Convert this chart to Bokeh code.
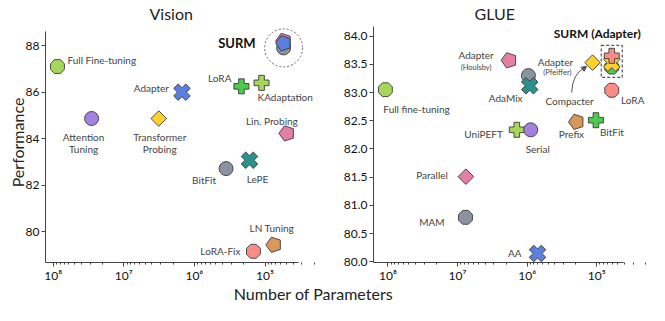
import math
from bokeh.plotting import figure
from bokeh.models import (Range1d, FixedTicker, Label, Arrow, NormalHead,
                          PrintfTickFormatter, CustomJSTickFormatter)
from bokeh.layouts import column, row
from bokeh.embed import file_html
from bokeh.resources import INLINE

FONT = "Lato"

# ---------------- data: Vision ----------------
v_methods = ["Full Fine-tuning", "Attention Tuning", "Transformer Probing", "Adapter",
             "LoRA", "KAdaptation", "Lin. Probing", "BitFit", "LePE", "LN Tuning", "LoRA-Fix"]
v_params = [8.7e7, 2.86e7, 3.2e6, 1.5e6, 2.16e5, 1.12e5, 4.9e4, 3.56e5, 1.66e5, 7.5e4, 1.46e5]
v_perf = [87.1, 84.87, 84.87, 86.0, 86.25, 86.4, 84.23, 82.72, 83.08, 79.45, 79.17]
v_surm_params = [5.45e4, 5.45e4, 5.45e4]
v_surm_perf = [87.9, 88.2, 88.1]

# ---------------- data: GLUE ----------------
g_methods = ["Full fine-tuning", "Adapter (Houlsby)", "Adapter (Pfeiffer)", "AdaMix", "Compacter",
             "LoRA", "Prefix", "BitFit", "UniPEFT", "Serial", "Parallel", "MAM", "AA"]
g_params = [1.09e8, 1.82e6, 9.6e5, 9.2e5, 1.15e5, 6.1e4, 1.96e5, 1.03e5, 1.41e6, 8.9e5, 7.6e6, 7.7e6, 7.1e5]
g_perf = [83.05, 83.57, 83.30, 83.12, 83.53, 83.04, 82.48, 82.51, 82.34, 82.34, 81.51, 80.79, 80.15]
g_surm_params = [6.1e4, 6.1e4, 6.1e4]
g_surm_perf = [83.45, 83.52, 83.65]

# ---------------- ticks ----------------
x_ticks = [1e5, 1e6, 1e7, 1e8]
v_y_ticks = [80, 82, 84, 86, 88]
g_y_ticks = [80.0, 80.5, 81.0, 81.5, 82.0, 82.5, 83.0, 83.5, 84.0]

# ---------------- styles ----------------
LIME, PURPLE, YELLOW, BLUE = "#a6d75b", "#a381e0", "#fcd22a", "#5b7fe0"
GREEN, PINK, GRAY, TEAL = "#4ccc4c", "#e67fa3", "#8a939f", "#2a918c"
SALMON, BROWN = "#fa8c86", "#d9975b"

v_style = {
    "Full Fine-tuning": ("octagon", LIME), "Attention Tuning": ("circle", PURPLE),
    "Transformer Probing": ("diamond", YELLOW), "Adapter": ("xplus", BLUE),
    "LoRA": ("plus", GREEN), "KAdaptation": ("plus", LIME), "Lin. Probing": ("pentagon", PINK),
    "BitFit": ("circle", GRAY), "LePE": ("xplus", TEAL), "LN Tuning": ("pentagon", BROWN),
    "LoRA-Fix": ("octagon", SALMON),
}
v_surm_style = [("circle", GRAY), ("pentagon", PINK), ("pentagon", BLUE)]

g_style = {
    "Full fine-tuning": ("octagon", LIME), "Adapter (Houlsby)": ("pentagon", PINK),
    "Adapter (Pfeiffer)": ("circle", GRAY), "AdaMix": ("xplus", TEAL),
    "Compacter": ("diamond", YELLOW), "LoRA": ("octagon", SALMON), "Prefix": ("pentagon", BROWN),
    "BitFit": ("plus", GREEN), "UniPEFT": ("plus", LIME), "Serial": ("circle", PURPLE),
    "Parallel": ("diamond", PINK), "MAM": ("octagon", GRAY), "AA": ("xplus", BLUE),
}
g_surm_style = [("octagon", GREEN), ("xplus", YELLOW), ("plus", SALMON)]

LS = 10  # annotation font size
# label pieces: (text, dx, dy, align, size)
v_labels = {
    "Full Fine-tuning": [("Full Fine-tuning", 10, 7, "left", LS)],
    "Attention Tuning": [("Attention", -8, -18, "center", LS), ("Tuning", -8, -30, "center", LS)],
    "Transformer Probing": [("Transformer", 1, -18, "center", LS), ("Probing", 1, -30, "center", LS)],
    "Adapter": [("Adapter", -13, 4, "right", LS)],
    "LoRA": [("LoRA", -10, 8, "right", LS)],
    "KAdaptation": [("KAdaptation", -4, -14, "left", LS)],
    "Lin. Probing": [("Lin. Probing", -15, 12, "center", LS)],
    "BitFit": [("BitFit", -10, -11, "right", LS)],
    "LePE": [("LePE", 8, -19, "center", LS)],
    "LN Tuning": [("LN Tuning", -2, 17, "center", LS)],
    "LoRA-Fix": [("LoRA-Fix", -13, 0, "right", LS)],
}
g_labels = {
    "Full fine-tuning": [("Full fine-tuning", -2, -19, "left", LS)],
    "Adapter (Houlsby)": [("Adapter", -33, 5, "center", LS), ("(Houlsby)", -33, -7, "center", 7.5)],
    "Adapter (Pfeiffer)": [("Adapter", 27, 14, "center", LS), ("(Pfeiffer)", 29, 3, "center", 7.5)],
    "AdaMix": [("AdaMix", -24, -12, "center", LS)],
    "Compacter": [("Compacter", -23, -38, "center", LS)],
    "LoRA": [("LoRA", 21, -10, "center", LS)],
    "Prefix": [("Prefix", -5, -12, "center", LS)],
    "BitFit": [("BitFit", 16, -12, "center", LS)],
    "UniPEFT": [("UniPEFT", -14, -4, "right", LS)],
    "Serial": [("Serial", 7, -19, "center", LS)],
    "Parallel": [("Parallel", -18, 2, "right", LS)],
    "MAM": [("MAM", -21, -5, "right", LS)],
    "AA": [("AA", -16, 0, "right", LS)],
}

LABEL_COLOR = "#444444"
AXIS_COLOR = "#444444"


def draw_marker(p, x, y, shape, color):
    common = dict(line_color="#3a3a3a", line_width=0.9, fill_color=color)
    if shape == "circle":
        p.scatter([x], [y], marker="circle", size=14, **common)
    elif shape == "plus":
        p.scatter([x], [y], marker="plus", size=15, **common)
    elif shape == "xplus":
        p.scatter([x], [y], marker="plus", size=17, angle=math.pi / 4, **common)
    elif shape == "diamond":
        p.scatter([x], [y], marker="square", size=11, angle=math.pi / 4, **common)
    elif shape == "pentagon":
        p.ngon([x], [y], radius=8, radius_units="screen", n=5, angle=math.pi / 2, **common)
    elif shape == "octagon":
        p.ngon([x], [y], radius=7.5, radius_units="screen", n=8, angle=math.pi / 8, **common)


def add_label(p, x, y, text, dx, dy, align, size, color=LABEL_COLOR, bold=False):
    p.add_layout(Label(x=x, y=y, x_offset=dx, y_offset=dy, text=text, text_align=align,
                       text_baseline="middle", text_font=FONT, text_font_size=f"{size}px",
                       text_color=color, text_font_style="bold" if bold else "normal"))


sup = CustomJSTickFormatter(code="""
const s = {'4':'\u2074','5':'\u2075','6':'\u2076','7':'\u2077','8':'\u2078','9':'\u2079'};
const e = Math.round(Math.log10(tick));
return '10' + s[String(e)];
""")

minor = [k * 10 ** e for e in range(4, 9) for k in range(2, 10)]


def make_fig(width, height, xr, yr, xb, yb, yticks, bl, title, toff, ylabel=None, yfmt=None):
    p = figure(width=width, height=height, x_axis_type="log", x_range=xr, y_range=yr,
               output_backend="svg", toolbar_location=None, title=title,
               min_border_left=bl, min_border_right=0, min_border_top=22, min_border_bottom=22)
    p.title.align = "left"
    p.title.offset = toff
    p.title.text_font = FONT
    p.title.text_font_size = "16px"
    p.title.text_font_style = "normal"
    p.title.text_color = "#222222"
    p.title.standoff = 0
    p.outline_line_color = None
    p.xgrid.visible = False
    p.ygrid.visible = False
    p.background_fill_color = None
    p.border_fill_color = None
    p.xaxis.ticker = FixedTicker(ticks=x_ticks, minor_ticks=minor)
    p.xaxis.formatter = sup
    p.xaxis.bounds = xb
    p.yaxis.bounds = yb
    p.yaxis.ticker = FixedTicker(ticks=yticks)
    if yfmt:
        p.yaxis.formatter = PrintfTickFormatter(format=yfmt)
    for ax in (p.xaxis[0], p.yaxis[0]):
        ax.axis_line_color = AXIS_COLOR
        ax.major_tick_line_color = AXIS_COLOR
        ax.major_tick_out = 4
        ax.major_tick_in = 0
        ax.major_label_text_font = FONT
        ax.major_label_text_font_size = "12px"
        ax.major_label_text_color = "#111111"
        ax.major_label_standoff = 2
    p.xaxis.major_label_standoff = 1
    p.xaxis.minor_tick_line_color = AXIS_COLOR
    p.xaxis.minor_tick_out = 2
    p.xaxis.minor_tick_in = 0
    p.yaxis.minor_tick_line_color = None
    if ylabel:
        p.yaxis.axis_label = ylabel
        p.yaxis.axis_label_text_font = FONT
        p.yaxis.axis_label_text_font_size = "16px"
        p.yaxis.axis_label_text_font_style = "normal"
        p.yaxis.axis_label_text_color = "#222222"
        p.yaxis.axis_label_standoff = -4
    return p


H = 285
# ---------------- Vision ----------------
p1 = make_fig(322, H, Range1d(10 ** 8.109, 10 ** 4.186), Range1d(78.69, 88.99),
              (10 ** 4.53, 10 ** 8.109), (78.69, 88.62), v_y_ticks, 45, "Vision", 104,
              ylabel="Performance")
for m, x, y in zip(v_methods, v_params, v_perf):
    shape, color = v_style[m]
    draw_marker(p1, x, y, shape, color)
    for (t, dx, dy, al, sz) in v_labels[m]:
        add_label(p1, x, y, t, dx, dy, al, sz)
# SURM group
p1.circle([v_surm_params[0]], [v_surm_perf[0]], radius=19, radius_units="screen",
          fill_color=None, line_color="#666666", line_width=1, line_dash="2 2")
for x, y, (shape, color) in zip(v_surm_params, v_surm_perf, v_surm_style):
    draw_marker(p1, x, y, shape, color)
add_label(p1, v_surm_params[0], (min(v_surm_perf) + max(v_surm_perf)) / 2, "SURM", -28, 1,
          "right", 13, color="#111111", bold=True)

# ---------------- GLUE ----------------
p2 = make_fig(327, H, Range1d(10 ** 8.208, 10 ** 4.243), Range1d(79.99, 84.24),
              (10 ** 4.621, 10 ** 8.208), (79.99, 84.17), g_y_ticks, 51, "GLUE", 101, yfmt="%.1f")
for m, x, y in zip(g_methods, g_params, g_perf):
    shape, color = g_style[m]
    draw_marker(p2, x, y, shape, color)
    for (t, dx, dy, al, sz) in g_labels[m]:
        add_label(p2, x, y, t, dx, dy, al, sz)

# arrow from Compacter label to its marker
ci = g_methods.index("Compacter")
cx, cy = g_params[ci], g_perf[ci]
p2.quadratic(x0=[cx * 2.0], y0=[cy - 0.53], x1=[cx * 1.3], y1=[cy - 0.09],
             cx=[cx * 1.95], cy=[cy - 0.2], line_color="#555555", line_width=1)
p2.add_layout(Arrow(end=NormalHead(size=5, fill_color="#555555", line_color="#555555"),
                    x_start=cx * 1.36, y_start=cy - 0.11, x_end=cx * 1.22, y_end=cy - 0.065,
                    line_color="#555555", line_width=1))

smid = (min(g_surm_perf) + max(g_surm_perf)) / 2
p2.rect([g_surm_params[0]], [smid], width=21, height=32, width_units="screen",
        height_units="screen", fill_color=None, line_color="#555555", line_width=1.2,
        line_dash="3 2")
for x, y, (shape, color) in zip(g_surm_params, g_surm_perf, g_surm_style):
    draw_marker(p2, x, y, shape, color)
add_label(p2, g_surm_params[0], max(g_surm_perf), "SURM (Adapter)", -58, 22, "left", 12,
          color="#111111", bold=True)

# ---------------- shared x label ----------------
p3 = figure(width=649, height=305 - H, x_range=Range1d(0, 649), y_range=Range1d(0, 305 - H),
            output_backend="svg", toolbar_location=None, x_axis_location=None,
            y_axis_location=None, min_border=0)
p3.outline_line_color = None
p3.grid.visible = False
p3.add_layout(Label(x=313, y=12, text="Number of Parameters", text_align="center",
                    text_baseline="middle", text_font=FONT, text_font_size="16px",
                    text_color="#222222"))

layout = column(row(p1, p2), p3)
open("out.html", "w").write(file_html(layout, INLINE))
